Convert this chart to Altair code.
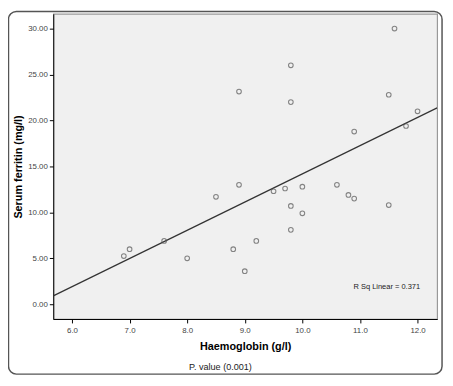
import altair as alt
import pandas as pd

hb = [6.9, 7.0, 7.6, 8.0, 8.5, 8.8, 8.9, 8.9, 9.0, 9.2, 9.5, 9.7, 9.8, 9.8, 9.8, 9.8,
      10.0, 10.0, 10.6, 10.8, 10.9, 10.9, 11.5, 11.5, 11.6, 11.8, 12.0]
ferritin = [5.25, 6.0, 6.9, 5.0, 11.7, 6.0, 13.0, 23.15, 3.6, 6.9, 12.3, 12.6, 26.0, 22.0,
            10.7, 8.1, 12.8, 9.9, 13.0, 11.9, 11.5, 18.8, 22.8, 10.8, 30.0, 19.4, 21.0]
x_ticks = [6, 7, 8, 9, 10, 11, 12]
y_ticks = [0, 5, 10, 15, 20, 25, 30]
r2_label = "R Sq Linear = 0.371"
p_label = "P. value (0.001)"

df = pd.DataFrame({"hb": hb, "ferritin": ferritin})

W, H = 390, 310
FONT = "Liberation Sans"

xs = alt.Scale(domain=[5.675, 12.34], nice=False, zero=False)
ys = alt.Scale(domain=[-1.6, 31.6], nice=False, zero=False)

xenc = alt.X("hb:Q", scale=xs, axis=alt.Axis(
    values=x_ticks, format=".1f", title="Haemoglobin (g/l)", grid=False,
    domainColor="#000", tickColor="#000", tickSize=4, labelColor="#444",
    labelFontSize=8, titleFontSize=11, titleFontWeight="bold", titlePadding=6,
    labelPadding=4, titleColor="#000", labelFont=FONT, titleFont=FONT))
yenc = alt.Y("ferritin:Q", scale=ys, axis=alt.Axis(
    values=y_ticks, format=".2f", title="Serum ferritin (mg/l)", grid=False,
    domainColor="#000", tickColor="#000", tickSize=4, labelColor="#444",
    labelFontSize=8, titleFontSize=11, titleFontWeight="bold",
    titleX=-30, titleY=H / 2, titleBaseline="bottom", titleAlign="center", titleAngle=270,
    labelPadding=2, titleColor="#000", labelFont=FONT, titleFont=FONT))

base = alt.Chart(df)

frame = alt.Chart(pd.DataFrame({"a": [0]})).mark_rect(
    fill=None, stroke="#555", strokeWidth=1.5, cornerRadius=8, clip=False
).encode(x=alt.value(-45.5), x2=alt.value(W + 5), y=alt.value(-2.5), y2=alt.value(H + 56))

points = base.mark_point(shape="circle", filled=False, color="#555", size=22,
                         strokeWidth=1.1).encode(x=xenc, y=yenc)

line = base.transform_regression("hb", "ferritin", extent=[5.675, 12.34]).mark_line(
    color="#333", strokeWidth=1.2, clip=True).encode(
    x=alt.X("hb:Q", scale=xs), y=alt.Y("ferritin:Q", scale=ys))

r2 = alt.Chart(pd.DataFrame({"t": [r2_label]})).mark_text(
    font=FONT, fontSize=7.6, color="#222", align="left", baseline="middle"
).encode(text="t:N", x=alt.value(305), y=alt.value(278))

pval = alt.Chart(pd.DataFrame({"t": [p_label]})).mark_text(
    font=FONT, fontSize=9.2, color="#222", align="left", baseline="middle"
).encode(text="t:N", x=alt.value(138), y=alt.value(359))

chart = alt.layer(frame, line, points, r2, pval).properties(
    width=W, height=H,
    autosize=alt.AutoSizeParams(type="none"),
    padding={"left": 46, "top": 3, "right": 8, "bottom": 60},
    background="white",
).configure_view(fill="#F0F0F0", stroke="#999", strokeWidth=1.2)

chart.save("out.html", embed_options={"renderer": "svg", "actions": False})
